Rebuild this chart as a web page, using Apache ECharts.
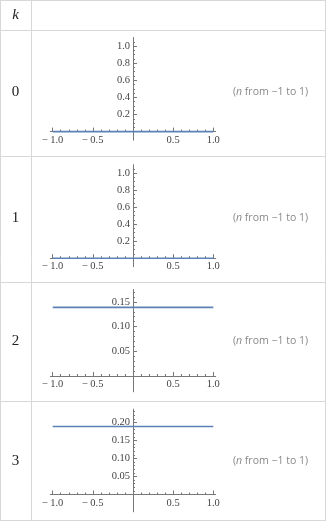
<!DOCTYPE html>
<html>
<head>
<meta charset="utf-8">
<script src="https://cdn.jsdelivr.net/npm/echarts@6/dist/echarts.min.js"></script>
<style>
  html, body { margin: 0; padding: 0; background: #fff; }
  #chart { width: 326px; height: 523px; }
</style>
</head>
<body>
<div id="chart"></div>
<script>
// Table of constant plots over n, one row per k
const kLabels = ['0', '1', '2', '3'];
const nSamples = [-1, -0.5, 0, 0.5, 1];
const values0 = [0, 0, 0, 0, 0];
const values1 = [0, 0, 0, 0, 0];
const values2 = [0.139, 0.139, 0.139, 0.139, 0.139];
const values3 = [0.189, 0.189, 0.189, 0.189, 0.189];
const xTickLabels = [-1, -0.5, 0.5, 1];
const yTickLabels0 = [0.2, 0.4, 0.6, 0.8, 1.0];
const yTickLabels1 = [0.2, 0.4, 0.6, 0.8, 1.0];
const yTickLabels2 = [0.05, 0.10, 0.15];
const yTickLabels3 = [0.05, 0.10, 0.15, 0.20];
const rangeText = '({i|n} from \u22121 to 1)';

const seriesValues = [values0, values1, values2, values3];
const yTickSets = [yTickLabels0, yTickLabels1, yTickLabels2, yTickLabels3];
const yDecimals = [1, 1, 2, 2];
const yMinorStep = [0.05, 0.05, 0.01, 0.01];

// row geometry: pixel position of y = 0, pixels per unit, visible y range
const rowGeom = [
  { zero: 131.6, unit: 85.5, yMin: -0.1, yMax: 1.1 },
  { zero: 258.2, unit: 85.0, yMin: -0.1, yMax: 1.1 },
  { zero: 376.0, unit: 494, yMin: -0.032, yMax: 0.175 },
  { zero: 494.5, unit: 360, yMin: -0.048, yMax: 0.237 }
];
const rowBounds = [30.5, 156.5, 282.5, 401.5, 520.5];

const X_MIN = -1.03, X_MAX = 1.03;
const gridLeft = 50.3, gridWidth = 165.4;

const axisColor = '#777';
const labelColor = '#444';
const tickFont = { fontFamily: 'Liberation Serif', fontSize: 10.5, color: labelColor };

function steps(lo, hi, step, skip) {
  const out = [];
  const n = Math.round((hi - lo) / step);
  for (let i = 0; i <= n; i++) {
    const v = +(lo + i * step).toFixed(4);
    if (!skip.some(s => Math.abs(s - v) < 1e-9)) out.push(v);
  }
  return out;
}

const xMinorTicks = steps(-1, 1, 0.1, [-1, -0.5, 0, 0.5, 1]);

const grids = [], xAxes = [], yAxes = [], series = [];
rowGeom.forEach((g, r) => {
  const top = g.zero - g.yMax * g.unit;
  const height = (g.yMax - g.yMin) * g.unit;
  grids.push({ left: gridLeft, top: top, width: gridWidth, height: height, containLabel: false });
  const xOffset = g.yMin * g.unit; // lift the x axis to y = 0
  const baseX = {
    type: 'value', gridIndex: r, min: X_MIN, max: X_MAX, position: 'bottom', offset: xOffset,
    splitLine: { show: false }
  };
  xAxes.push(Object.assign({}, baseX, {
    axisLine: { show: true, lineStyle: { color: axisColor, width: 1 } },
    axisTick: { show: true, inside: true, length: 4, customValues: [-1, -0.5, 0.5, 1], lineStyle: { color: axisColor } },
    axisLabel: Object.assign({
      show: true, margin: 3, customValues: xTickLabels,
      formatter: v => (v < 0 ? '\u2212\u2009' : '') + Math.abs(v).toFixed(1)
    }, tickFont)
  }));
  xAxes.push(Object.assign({}, baseX, {
    axisLine: { show: false },
    axisTick: { show: true, inside: true, length: 2, customValues: xMinorTicks, lineStyle: { color: axisColor } },
    axisLabel: { show: false }
  }));
  const yOffset = -gridWidth / 2; // place the y axis at n = 0
  const majors = yTickSets[r];
  const minors = steps(yMinorStep[r], g.yMax, yMinorStep[r], majors).filter(v => v < g.yMax);
  const baseY = {
    type: 'value', gridIndex: r, min: g.yMin, max: g.yMax, position: 'left', offset: yOffset,
    splitLine: { show: false }
  };
  yAxes.push(Object.assign({}, baseY, {
    axisLine: { show: true, onZero: false, lineStyle: { color: axisColor, width: 1 } },
    axisTick: { show: true, inside: true, length: 4, customValues: majors, lineStyle: { color: axisColor } },
    axisLabel: Object.assign({
      show: true, margin: 3, customValues: majors,
      formatter: v => v.toFixed(yDecimals[r])
    }, tickFont)
  }));
  yAxes.push(Object.assign({}, baseY, {
    axisLine: { show: false, onZero: false },
    axisTick: { show: true, inside: true, length: 2, customValues: minors, lineStyle: { color: axisColor } },
    axisLabel: { show: false }
  }));
  series.push({
    type: 'line', xAxisIndex: r * 2, yAxisIndex: r * 2,
    data: nSamples.map((n, i) => [n, seriesValues[r][i]]),
    showSymbol: false, silent: true, animation: false,
    lineStyle: { color: '#5e81b5', width: 1.6 }, z: 3
  });
});

// table rules and cell text
const border = '#d8d8d8';
const graphics = [];
const hLines = [0.5].concat(rowBounds);
hLines.forEach(y => graphics.push({
  type: 'line', shape: { x1: 0, y1: y, x2: 326, y2: y }, style: { stroke: border, lineWidth: 1 }, silent: true
}));
[0.5, 31.5, 325.5].forEach(x => graphics.push({
  type: 'line', shape: { x1: x, y1: 0, x2: x, y2: 520.5 }, style: { stroke: border, lineWidth: 1 }, silent: true
}));
graphics.push({
  type: 'text', x: 15.5, y: 15.5, silent: true,
  style: { text: 'k', fontFamily: 'Liberation Serif', fontStyle: 'italic', fontSize: 15, fill: '#222', align: 'center', verticalAlign: 'middle' }
});
const rowTextY = [92, 218, 341, 461];
kLabels.forEach((k, r) => {
  graphics.push({
    type: 'text', x: 15.5, y: rowTextY[r], silent: true,
    style: { text: k, fontFamily: 'Liberation Serif', fontSize: 15, fill: '#222', align: 'center', verticalAlign: 'middle' }
  });
  graphics.push({
    type: 'text', x: 270.5, y: rowTextY[r], silent: true,
    style: {
      text: rangeText, fontFamily: 'Open Sans', fontSize: 10.5, fill: '#888', align: 'center', verticalAlign: 'middle',
      rich: { i: { fontStyle: 'italic', fontFamily: 'Open Sans', fontSize: 10.5, fill: '#888' } }
    }
  });
});

const chart = echarts.init(document.getElementById('chart'), null, { renderer: 'canvas' });
chart.setOption({
  animation: false,
  backgroundColor: '#fff',
  grid: grids,
  xAxis: xAxes,
  yAxis: yAxes,
  series: series,
  graphic: graphics
});
</script>
</body>
</html>
